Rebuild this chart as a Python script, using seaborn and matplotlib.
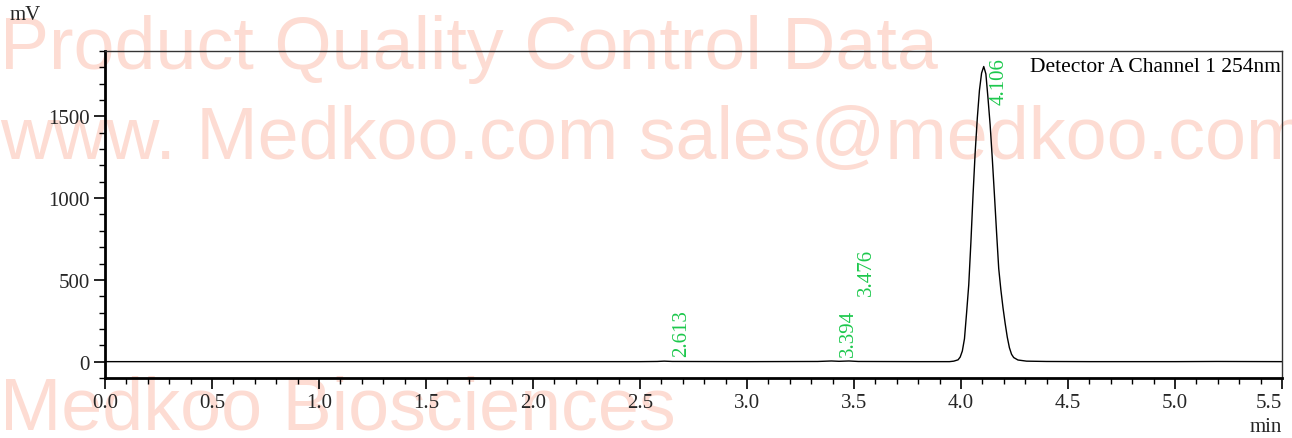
import numpy as np
import pandas as pd
import matplotlib
matplotlib.use('Agg')
import matplotlib.pyplot as plt
import seaborn as sns
from matplotlib.ticker import MultipleLocator

# Chromatogram trace (retention time in min, signal in mV)
time_min = [0.0, 0.5, 1.0, 1.5, 2.0, 2.5, 2.58, 2.613, 2.65, 3.0, 3.33,
            3.394, 3.43, 3.476, 3.52, 3.80, 3.90, 3.946, 3.966, 3.986,
            3.996, 4.006, 4.016, 4.026, 4.036, 4.046, 4.056, 4.066, 4.076,
            4.086, 4.096, 4.106, 4.116, 4.126, 4.136, 4.146, 4.156, 4.166,
            4.176, 4.186, 4.196, 4.206, 4.216, 4.226, 4.236, 4.246, 4.266,
            4.306, 4.40, 4.60, 5.0, 5.2, 5.5]
signal_mV = [0, 0, 0, 0, 0, 0, 1, 3, 1, 0, 1,
             4, 2, 4, 1, 0, 0, 0, 3, 11,
             28, 65, 140, 300, 470, 730, 1020, 1280, 1490,
             1660, 1765, 1805, 1760, 1610, 1447, 1242, 1020, 790,
             570, 440, 330, 235, 150, 85, 45, 25, 10,
             3, 1, 0, 0, 1, 0]

# Peak annotations
peak_labels = ['2.613', '3.394', '3.476', '4.106']
label_x = [2.696, 3.472, 3.556, 4.180]
label_y = [37, 37, 406, 1574]

sns.set_style('ticks')
plt.rcParams['font.family'] = ['Liberation Serif', 'DejaVu Serif']

df = pd.DataFrame({'time': time_min, 'signal': signal_mV})

fig = plt.figure(figsize=(12.92, 4.39), dpi=100)
ax = fig.add_axes([0.0813, 0.1367, 0.9110, 0.7449])
ax.patch.set_alpha(0)

# Watermark behind everything
wm_color = '#fddcd3'
wm_kw = dict(family=['Liberation Sans', 'DejaVu Sans'], fontsize=53,
             color=wm_color, zorder=-5, va='baseline', ha='left')
fig.text(0.0, 1 - 69 / 439, 'Product Quality Control Data', **wm_kw)
fig.text(0.0, 1 - 159 / 439, 'www. Medkoo.com sales@medkoo.com', **wm_kw)
fig.text(0.0, 1 - 430 / 439, 'Medkoo Biosciences', **wm_kw)

sns.lineplot(data=df, x='time', y='signal', ax=ax, color='black',
             linewidth=1.0, estimator=None, sort=False)

for lab, lx, ly in zip(peak_labels, label_x, label_y):
    ax.text(lx, ly, lab, rotation=90, ha='center', va='bottom',
            color='#1cc84c', fontsize=15)

ax.text(0.999, 0.952, 'Detector A Channel 1 254nm', transform=ax.transAxes,
        ha='right', va='center', fontsize=15.5, color='black')

ax.set_xlim(0, 5.5)
ax.set_ylim(-100, 1900)
xticks = np.arange(0, 5.51, 0.5)
ax.set_xticks(xticks)
ax.set_xticklabels([f'{v:.1f}' for v in xticks])
ax.xaxis.set_minor_locator(MultipleLocator(0.1))
ax.yaxis.set_major_locator(MultipleLocator(500))
ax.yaxis.set_minor_locator(MultipleLocator(100))
ax.tick_params(which='major', length=8, width=1.2, labelsize=15, color='black', pad=3)
ax.tick_params(which='minor', length=4, width=1.0, color='black')
ax.tick_params(axis='both', direction='out', top=False, right=False)
# last x label sits inside the frame edge
ax.get_xticklabels()[-1].set_horizontalalignment('right')

ax.set_xlabel('')
ax.set_ylabel('')
fig.text(10 / 1292, 1 - 16 / 439, 'mV', fontsize=15, va='center', ha='left')
fig.text(1282 / 1292, 1 - 428 / 439, 'min', fontsize=15, va='center', ha='right')

for side in ['left', 'bottom']:
    ax.spines[side].set_linewidth(2.0)
    ax.spines[side].set_color('black')
for side in ['top', 'right']:
    ax.spines[side].set_visible(True)
    ax.spines[side].set_linewidth(1.0)
    ax.spines[side].set_color('#333333')

fig.savefig('out.png', dpi=100)
